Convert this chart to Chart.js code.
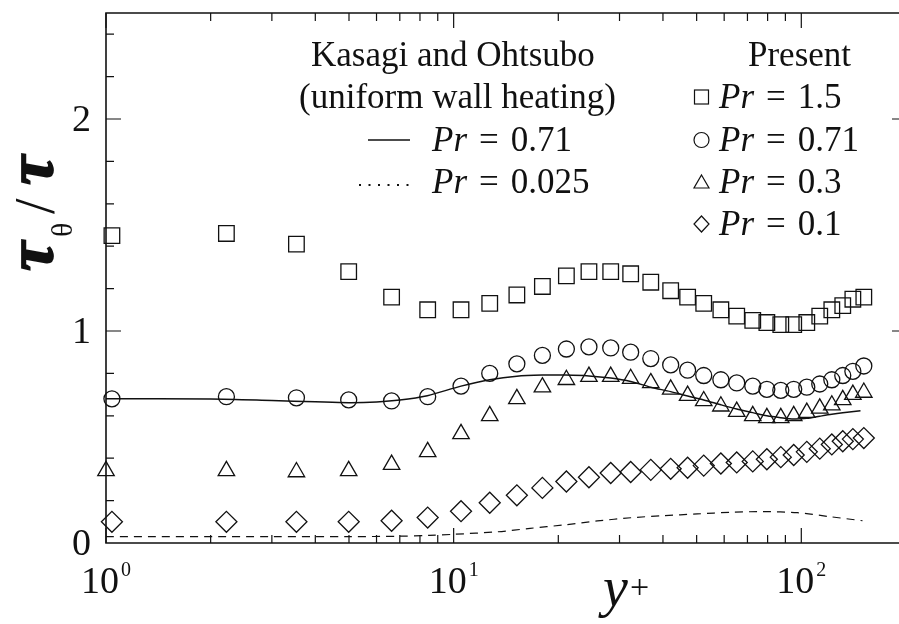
<!DOCTYPE html>
<html><head><meta charset="utf-8">
<script src="https://cdn.jsdelivr.net/npm/chart.js@4"></script>
<style>
html,body{margin:0;padding:0;background:#fff;overflow:hidden;}
canvas{display:block;}
</style></head><body>
<canvas id="c" width="899" height="624"></canvas>
<script>
// ---- data ----
const yPlus = [1.04, 2.22, 3.53, 4.99, 6.63, 8.42, 10.5, 12.7, 15.2, 18.0, 21.1, 24.5, 28.3, 32.3, 36.9, 42.1, 47.1, 52.4, 58.7, 65.2, 72.5, 79.6, 87.3, 95.1, 103.7, 113.0, 122.4, 131.6, 140.7, 151.3];
const yPlusTri = [1.0, 2.22, 3.53, 4.99, 6.63, 8.42, 10.5, 12.7, 15.2, 18.0, 21.1, 24.5, 28.3, 32.3, 36.9, 42.1, 47.1, 52.4, 58.7, 65.2, 72.5, 79.6, 87.3, 95.1, 103.7, 113.0, 122.4, 131.6, 140.7, 151.3];
const pr15  = [1.45, 1.46, 1.41, 1.28, 1.16, 1.10, 1.10, 1.13, 1.17, 1.21, 1.26, 1.28, 1.28, 1.27, 1.23, 1.19, 1.16, 1.13, 1.10, 1.07, 1.05, 1.04, 1.03, 1.03, 1.04, 1.07, 1.10, 1.12, 1.15, 1.16];
const pr071 = [0.68, 0.69, 0.685, 0.675, 0.67, 0.69, 0.74, 0.80, 0.845, 0.885, 0.915, 0.925, 0.92, 0.90, 0.87, 0.84, 0.815, 0.79, 0.77, 0.755, 0.74, 0.725, 0.72, 0.725, 0.735, 0.75, 0.77, 0.79, 0.81, 0.835];
const pr03  = [0.34, 0.34, 0.335, 0.34, 0.37, 0.43, 0.515, 0.60, 0.68, 0.735, 0.77, 0.785, 0.785, 0.775, 0.755, 0.725, 0.695, 0.67, 0.645, 0.62, 0.60, 0.59, 0.59, 0.60, 0.615, 0.635, 0.65, 0.675, 0.70, 0.71];
const pr01  = [0.10, 0.10, 0.10, 0.10, 0.105, 0.12, 0.15, 0.19, 0.225, 0.26, 0.29, 0.31, 0.33, 0.335, 0.345, 0.35, 0.355, 0.365, 0.375, 0.38, 0.385, 0.395, 0.405, 0.415, 0.43, 0.445, 0.465, 0.48, 0.49, 0.495];
const kasX071 = [1, 2, 3, 4, 5, 6, 7, 8.4, 10.5, 12.7, 15.2, 18, 21, 24.5, 28.3, 32.3, 36.9, 42.1, 47.1, 52.4, 58.7, 65.2, 72.5, 79.6, 87.3, 95.1, 103.7, 113, 122.4, 131.6, 148];
const kasY071 = [0.68, 0.679, 0.672, 0.666, 0.662, 0.665, 0.674, 0.695, 0.74, 0.77, 0.787, 0.792, 0.792, 0.788, 0.778, 0.762, 0.735, 0.714, 0.693, 0.675, 0.652, 0.632, 0.615, 0.600, 0.591, 0.585, 0.588, 0.598, 0.607, 0.614, 0.624];
const kasX0025 = [1, 3, 5, 7, 8.5, 10, 13.4, 16.6, 20.7, 25.9, 32.3, 40.1, 50.2, 62.5, 77.8, 97.4, 121, 150];
const kasY0025 = [0.03, 0.03, 0.03, 0.032, 0.036, 0.041, 0.053, 0.069, 0.085, 0.104, 0.119, 0.129, 0.137, 0.145, 0.148, 0.143, 0.124, 0.105];
const yTickValues = [0, 1, 2];
const yTickLabels = ['0', '1', '2'];
const xTickExponents = ['0', '1', '2'];
const presentLabels = ['1.5', '0.71', '0.3', '0.1'];
const kasagiLabels = ['0.71', '0.025'];

const INK = '#111';
const SERIF = '"Liberation Serif", "Times New Roman", serif';

function pts(xs, ys) { return xs.map((x, i) => ({ x: x, y: ys[i] })); }
function markerSet(label, xs, ys, style, r) {
  return { label, data: pts(xs, ys), showLine: false, pointStyle: style, pointRadius: r,
    pointBorderColor: INK, pointBackgroundColor: 'rgba(0,0,0,0)', pointBorderWidth: 1.3, clip: false };
}

const decor = {
  id: 'decor',
  afterDatasetsDraw(chart) {
    const { ctx, chartArea: a, scales: { x, y } } = chart;
    ctx.save();
    ctx.strokeStyle = INK; ctx.fillStyle = INK;
    // frame (right side lies just outside the picture)
    ctx.lineWidth = 1.6;
    ctx.beginPath();
    ctx.moveTo(a.right + 2, a.top); ctx.lineTo(a.left, a.top);
    ctx.lineTo(a.left, a.bottom); ctx.lineTo(a.right + 2, a.bottom);
    ctx.stroke();
    // x ticks (log)
    ctx.lineWidth = 1.2;
    ctx.beginPath();
    for (let d = 0; d < 3; d++) {
      for (let m = 1; m <= 9; m++) {
        const v = m * Math.pow(10, d);
        if (v < x.min || v > x.max) continue;
        const px = x.getPixelForValue(v);
        const len = m === 1 ? 15 : 8;
        ctx.moveTo(px, a.bottom); ctx.lineTo(px, a.bottom - len);
        ctx.moveTo(px, a.top); ctx.lineTo(px, a.top + len);
      }
    }
    // y ticks
    for (let i = 1; i <= 12; i++) {
      const v = i * 0.2;
      const py = y.getPixelForValue(v);
      const major = Math.abs(v - Math.round(v)) < 1e-6;
      ctx.moveTo(a.left, py); ctx.lineTo(a.left + (major ? 15 : 8), py);
      if (major) { ctx.moveTo(a.right, py); ctx.lineTo(a.right - 7, py); }
    }
    ctx.stroke();
    // y tick labels
    ctx.font = '38px ' + SERIF;
    ctx.textAlign = 'right'; ctx.textBaseline = 'alphabetic';
    yTickValues.forEach((v, i) => {
      ctx.fillText(yTickLabels[i], a.left - 15, y.getPixelForValue(v) + 12);
    });
    // x tick labels 10^n
    xTickExponents.forEach(e => {
      const px = x.getPixelForValue(Math.pow(10, Number(e)));
      ctx.font = '38px ' + SERIF;
      const w1 = ctx.measureText('10').width;
      ctx.font = '20px ' + SERIF;
      const w2 = ctx.measureText(e).width;
      const start = px - (w1 + 2 + w2) / 2;
      ctx.textAlign = 'left';
      ctx.font = '38px ' + SERIF;
      ctx.fillText('10', start, 593);
      ctx.font = '20px ' + SERIF;
      ctx.fillText(e, start + w1 + 2, 576);
    });
    // x title  y+
    ctx.textAlign = 'left';
    ctx.font = 'italic 56px ' + SERIF;
    ctx.fillText('y', 603, 606);
    ctx.font = '34px ' + SERIF;
    ctx.fillText('+', 630, 598);
    // y title  tau_theta / tau (rotated)
    ctx.save();
    ctx.translate(52, 271);
    ctx.rotate(-Math.PI / 2);
    ctx.lineWidth = 1.8;
    ctx.font = 'bold italic 66px ' + SERIF;
    ctx.fillText('\u03C4', 0, 0); ctx.strokeText('\u03C4', 0, 0);
    ctx.font = '30px ' + SERIF;
    ctx.fillText('\u03B8', 34, 20);
    ctx.font = '56px ' + SERIF;
    ctx.fillText('/', 57, 2);
    ctx.font = 'bold italic 66px ' + SERIF;
    ctx.fillText('\u03C4', 86, 0); ctx.strokeText('\u03C4', 86, 0);
    ctx.restore();

    // legend text helper: italic Pr, wider spacing round "="
    const LF = 35;
    function prText(xx, yy, val) {
      ctx.textAlign = 'left';
      ctx.font = 'italic ' + LF + 'px ' + SERIF;
      ctx.fillText('Pr', xx, yy);
      let cx = xx + ctx.measureText('Pr').width + 12;
      ctx.font = LF + 'px ' + SERIF;
      ctx.fillText('=', cx, yy);
      cx += ctx.measureText('=').width + 12;
      ctx.fillText(val, cx, yy);
    }
    const rows = [66, 108, 151, 193, 235];
    // legend: Kasagi and Ohtsubo
    ctx.font = LF + 'px ' + SERIF;
    ctx.textAlign = 'left';
    ctx.fillText('Kasagi and Ohtsubo', 311, rows[0]);
    ctx.fillText('(uniform wall heating)', 299, rows[1]);
    ctx.lineWidth = 1.5;
    ctx.beginPath(); ctx.moveTo(368, rows[2] - 11); ctx.lineTo(410, rows[2] - 11); ctx.stroke();
    prText(432, rows[2], kasagiLabels[0]);
    for (let i = 0; i < 6; i++) { ctx.fillRect(359 + i * 9.5, rows[3] - 9, 2, 2); }
    prText(432, rows[3], kasagiLabels[1]);
    // legend: Present
    ctx.font = LF + 'px ' + SERIF;
    ctx.fillText('Present', 748, rows[0]);
    ctx.lineWidth = 1.2;
    const mx = 701.5;
    let c = rows[1] - 11;
    ctx.strokeRect(mx - 7, c - 7, 14, 14);
    c = rows[2] - 11;
    ctx.beginPath(); ctx.arc(mx, c, 7.5, 0, Math.PI * 2); ctx.stroke();
    c = rows[3] - 11;
    ctx.beginPath(); ctx.moveTo(mx, c - 7); ctx.lineTo(mx + 7.5, c + 6); ctx.lineTo(mx - 7.5, c + 6); ctx.closePath(); ctx.stroke();
    c = rows[4] - 11;
    ctx.beginPath(); ctx.moveTo(mx, c - 8); ctx.lineTo(mx + 7.5, c); ctx.lineTo(mx, c + 8); ctx.lineTo(mx - 7.5, c); ctx.closePath(); ctx.stroke();
    presentLabels.forEach((v, i) => prText(719, rows[i + 1], v));
    ctx.restore();
  }
};

new Chart(document.getElementById('c'), {
  type: 'scatter',
  data: {
    datasets: [
      markerSet('Pr = 1.5', yPlus, pr15, 'rect', 11),
      markerSet('Pr = 0.71', yPlus, pr071, 'circle', 8),
      markerSet('Pr = 0.3', yPlusTri, pr03, 'triangle', 9.5),
      markerSet('Pr = 0.1', yPlus, pr01, 'rectRot', 10.5),
      { label: 'Kasagi Pr = 0.71', data: pts(kasX071, kasY071), showLine: true, pointRadius: 0,
        borderColor: INK, borderWidth: 1.5, tension: 0.3, fill: false, clip: false },
      { label: 'Kasagi Pr = 0.025', data: pts(kasX0025, kasY0025), showLine: true, pointRadius: 0,
        borderColor: INK, borderWidth: 1.2, borderDash: [8, 6], tension: 0.3, fill: false, clip: false }
    ]
  },
  options: {
    responsive: false, maintainAspectRatio: false, animation: false, events: [],
    devicePixelRatio: 1,
    layout: { autoPadding: false, padding: { left: 106, top: 13, right: 0, bottom: 81 } },
    scales: {
      x: { type: 'logarithmic', min: 1, max: 191, display: false },
      y: { type: 'linear', min: 0, max: 2.5, display: false }
    },
    plugins: { legend: { display: false }, tooltip: { enabled: false } }
  },
  plugins: [decor]
});
</script>
</body></html>
